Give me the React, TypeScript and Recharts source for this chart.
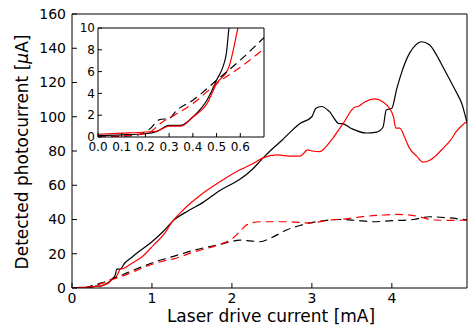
import React from 'react';
import { LineChart, Line, XAxis, YAxis } from 'recharts';

const blackSolidX = [0, 0.1, 0.2, 0.25, 0.3, 0.35, 0.4, 0.46, 0.5, 0.54, 0.56, 0.6, 0.66, 0.75, 0.83, 1.0, 1.14, 1.27, 1.45, 1.64, 1.85, 2.01, 2.1, 2.26, 2.39, 2.5, 2.62, 2.73, 2.85, 3.0, 3.05, 3.12, 3.22, 3.34, 3.38, 3.5, 3.68, 3.81, 3.89, 3.93, 4.0, 4.06, 4.12, 4.22, 4.3, 4.37, 4.47, 4.56, 4.64, 4.72, 4.81, 4.88, 4.91, 4.95];
const blackSolidY = [0.15, 0.2, 0.3, 0.52, 1.07, 1.07, 1.84, 3.4, 5.2, 7.5, 11, 11, 14.6, 18, 21, 27, 33, 39.5, 45, 50, 57, 61, 63.5, 69.5, 76, 81, 86, 91, 96, 100, 105, 106, 103, 96, 96, 93, 90.5, 91, 94, 104, 105, 116, 125.5, 137, 142, 143.8, 142, 136, 129, 122, 114, 107, 102, 95];

const redSolidX = [0, 0.1, 0.2, 0.25, 0.3, 0.35, 0.4, 0.46, 0.5, 0.55, 0.59, 0.6, 0.65, 0.75, 0.87, 1.02, 1.16, 1.25, 1.4, 1.6, 1.85, 2.1, 2.26, 2.39, 2.56, 2.75, 2.85, 2.95, 3.0, 3.1, 3.16, 3.27, 3.39, 3.54, 3.58, 3.66, 3.79, 3.89, 3.97, 4.02, 4.05, 4.1, 4.16, 4.22, 4.31, 4.39, 4.47, 4.56, 4.65, 4.73, 4.8, 4.88, 4.95];
const redSolidY = [0.25, 0.35, 0.46, 0.55, 1.0, 1.0, 1.84, 3.07, 4.9, 6.3, 10, 11, 11.5, 14.5, 18, 25, 32, 38.5, 46, 54, 62, 69, 72.5, 76, 77.7, 77, 77, 80.6, 80, 79.6, 81.7, 88, 96, 105.7, 106, 108.6, 110.4, 108.6, 105, 100, 93.4, 93.4, 88, 81.7, 77, 73.5, 74.5, 77.7, 82, 86, 91, 95, 97.5];

const blackDashX = [0, 0.16, 0.22, 0.26, 0.3, 0.33, 0.4, 0.5, 0.6, 0.7, 0.87, 1.12, 1.27, 1.52, 1.85, 1.98, 2.1, 2.23, 2.35, 2.5, 2.69, 2.85, 3.06, 3.35, 3.55, 3.77, 4.0, 4.27, 4.47, 4.7, 4.95];
const blackDashY = [0, 0.15, 0.77, 1.6, 1.7, 2.4, 3.37, 5.2, 7.05, 9.1, 12.3, 16.5, 18.5, 22, 25.5, 27, 28, 27.5, 27, 29.5, 34, 36.5, 38.7, 40, 39.5, 38.7, 39.3, 40, 41.6, 41, 39.7];

const redDashX = [0, 0.16, 0.22, 0.26, 0.33, 0.4, 0.5, 0.6, 0.7, 0.87, 1.12, 1.27, 1.52, 1.85, 2.01, 2.1, 2.19, 2.35, 2.68, 2.97, 3.23, 3.45, 3.64, 3.85, 4.06, 4.31, 4.52, 4.75, 4.95];
const redDashY = [0, 0.2, 0.46, 1.2, 2.1, 3.07, 4.9, 6.4, 8.1, 11.5, 15.5, 17, 21, 25.5, 29, 33, 37, 38.7, 38.7, 38, 39.7, 40.5, 41.7, 42.5, 43, 42, 39.7, 39.5, 39.7];

const mainXTicks = [0, 1, 2, 3, 4];
const mainYTicks = [0, 20, 40, 60, 80, 100, 120, 140, 160];
const insetXTicks = [0, 0.1, 0.2, 0.3, 0.4, 0.5, 0.6];
const insetYTicks = [0, 2, 4, 6, 8, 10];

const pts = (xs: number[], ys: number[]) => xs.map((x, i) => ({ x, y: ys[i] }));

const series = [
  { key: 'bs', data: pts(blackSolidX, blackSolidY), color: '#000000', dash: undefined },
  { key: 'rs', data: pts(redSolidX, redSolidY), color: '#ff0000', dash: undefined },
  { key: 'bd', data: pts(blackDashX, blackDashY), color: '#000000', dash: '8 5' },
  { key: 'rd', data: pts(redDashX, redDashY), color: '#ff0000', dash: '8 5' },
];

const tickStyle = (size: number) => ({ fill: '#000', fontSize: size });

function Frame({ xDomain, yDomain, xTicks, yTicks, tickLen }: any) {
  // mirrored top/right axes to close the box (ticks point inward)
  return [
    <XAxis key="xt" xAxisId="t" orientation="top" type="number" dataKey="x" domain={xDomain} ticks={xTicks}
      allowDataOverflow height={1} tickSize={-tickLen} tick={false} interval={0} stroke="#000" />,
    <YAxis key="yr" yAxisId="r" orientation="right" type="number" domain={yDomain} ticks={yTicks}
      allowDataOverflow width={1} tickSize={-tickLen} tick={false} interval={0} stroke="#000" />,
  ];
}

export default function App() {
  return (
    <div style={{ position: 'absolute', left: 0, top: 0, width: 468, height: 326, background: '#fff', fontFamily: '"DejaVu Sans", sans-serif' }}>
      <LineChart width={468} height={326} margin={{ top: 13, right: 0, bottom: 0, left: 0 }}>
        <XAxis xAxisId="b" type="number" dataKey="x" domain={[0, 4.94]} ticks={mainXTicks} allowDataOverflow
          height={38} tickSize={-5} tickMargin={10} interval={0} stroke="#000" tick={tickStyle(14)} />
        <YAxis yAxisId="l" type="number" domain={[0, 160]} ticks={mainYTicks} allowDataOverflow
          width={72} tickSize={-5} tickMargin={11} interval={0} stroke="#000" tick={tickStyle(14)} />
        {Frame({ xDomain: [0, 4.94], yDomain: [0, 160], xTicks: mainXTicks, yTicks: mainYTicks, tickLen: 5 })}
        {series.map(s => (
          <Line key={s.key} xAxisId="b" yAxisId="l" data={s.data} dataKey="y" type="monotone" stroke={s.color}
            strokeWidth={1.2} strokeDasharray={s.dash} dot={false} activeDot={false} isAnimationActive={false} />
        ))}
      </LineChart>

      {/* inset: zoom on threshold region */}
      <div style={{ position: 'absolute', left: 78, top: 19, width: 187, height: 138 }}>
        <LineChart width={187} height={138} margin={{ top: 8, right: 0, bottom: 0, left: 0 }}>
          <XAxis xAxisId="b" type="number" dataKey="x" domain={[0, 0.7]} ticks={insetXTicks} allowDataOverflow
            height={20} tickSize={-4} tickMargin={9} interval={0} stroke="#000" tick={tickStyle(12)}
            tickFormatter={(v: number) => v.toFixed(1)} />
          <YAxis yAxisId="l" type="number" domain={[0, 10]} ticks={insetYTicks} allowDataOverflow
            width={20} tickSize={-4} tickMargin={7} interval={0} stroke="#000" tick={tickStyle(12)} />
          {Frame({ xDomain: [0, 0.7], yDomain: [0, 10], xTicks: insetXTicks, yTicks: insetYTicks, tickLen: 4 })}
          {series.map(s => (
            <Line key={s.key} xAxisId="b" yAxisId="l" data={s.data} dataKey="y" type="monotone" stroke={s.color}
              strokeWidth={1.2} strokeDasharray={s.dash} dot={false} activeDot={false} isAnimationActive={false} />
          ))}
        </LineChart>
      </div>

      <div style={{ position: 'absolute', left: 271, top: 316, transform: 'translate(-50%, -50%)', fontSize: 17, whiteSpace: 'nowrap', color: '#000' }}>
        Laser drive current [mA]
      </div>
      <div style={{ position: 'absolute', left: 22, top: 152, transform: 'translate(-50%, -50%) rotate(-90deg)', fontSize: 17, whiteSpace: 'nowrap', color: '#000' }}>
        Detected photocurrent [<i>μ</i>A]
      </div>
    </div>
  );
}
